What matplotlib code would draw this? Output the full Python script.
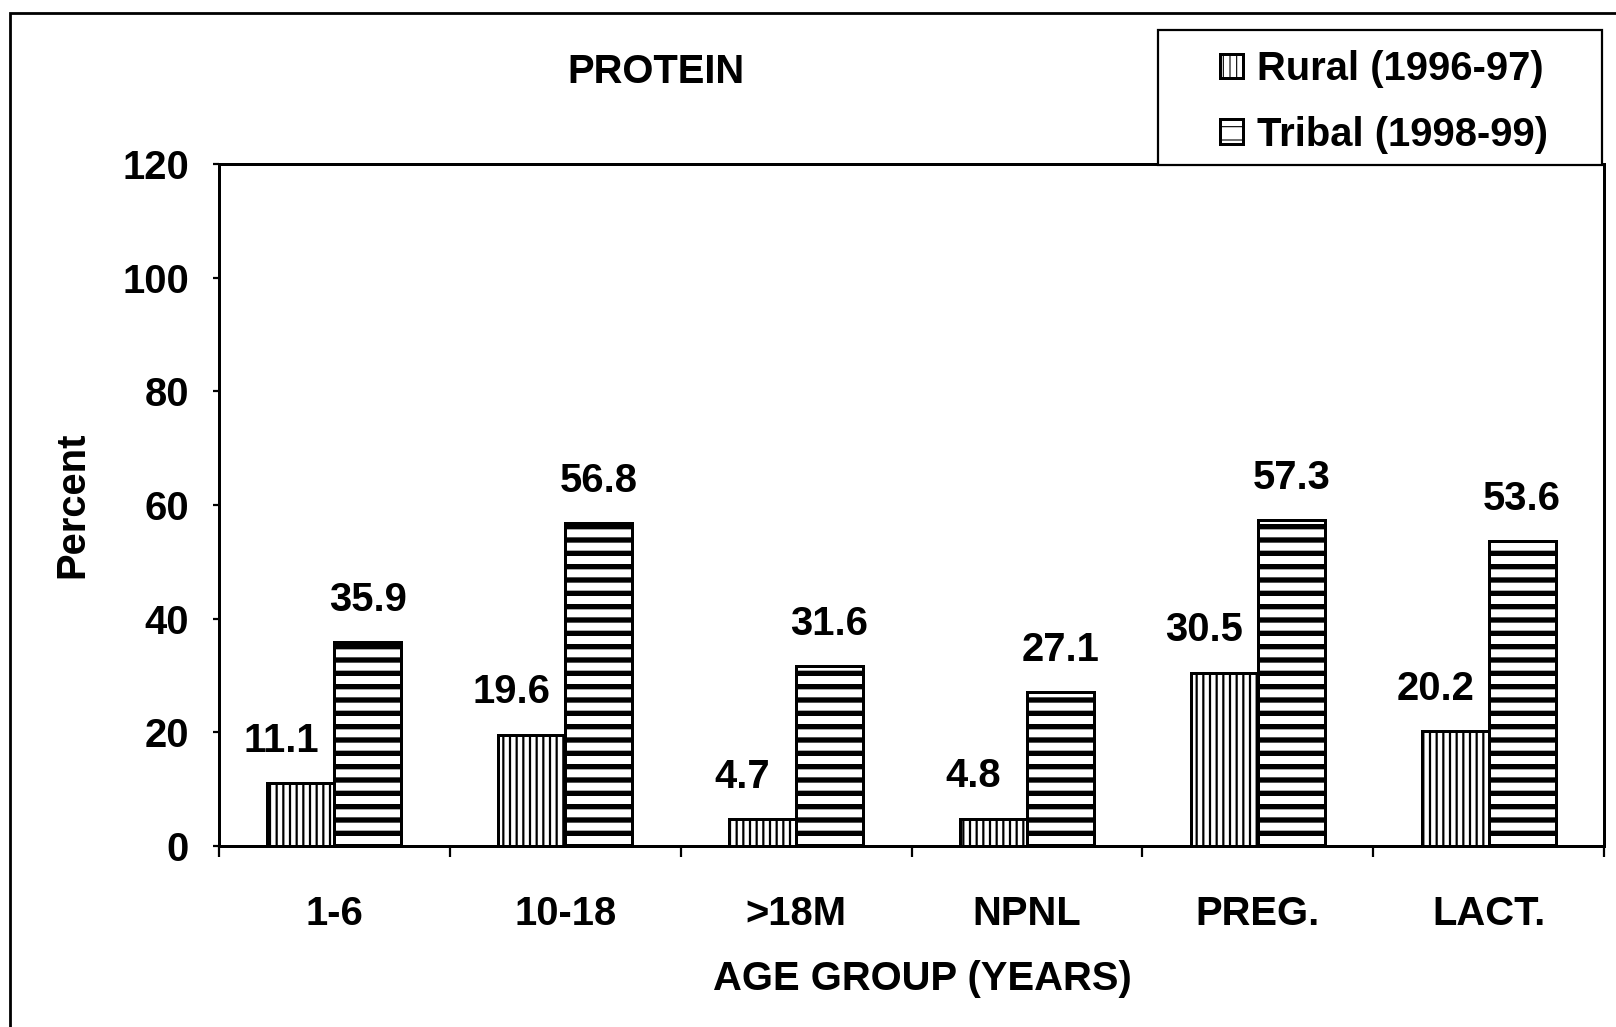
import matplotlib
matplotlib.use('Agg')
import matplotlib.pyplot as plt
from matplotlib.patches import Rectangle
import numpy as np

# Data
categories = ['1-6', '10-18', '>18M', 'NPNL', 'PREG.', 'LACT.']
rural = [11.1, 19.6, 4.7, 4.8, 30.5, 20.2]
tribal = [35.9, 56.8, 31.6, 27.1, 57.3, 53.6]
series_names = ['Rural (1996-97)', 'Tribal (1998-99)']
yticks = [0, 20, 40, 60, 80, 100, 120]

W, H, DPI = 1616, 1027, 80
plt.rcParams['font.family'] = ['Liberation Sans', 'DejaVu Sans']
plt.rcParams['font.weight'] = 'bold'
FS = 36

fig = plt.figure(figsize=(W / DPI, H / DPI), dpi=DPI)
fig.patch.set_facecolor('white')

def fx(px):
    return px / W

def fy(py):
    return 1 - py / H

# Plot area
ax = fig.add_axes([fx(219), fy(846), fx(1604) - fx(219), fy(164) - fy(846)])

x = np.arange(len(categories))
bw = 0.29
b1 = ax.bar(x - bw / 2, rural, bw, color='white', edgecolor='black',
            linewidth=2.7, hatch='||', label=series_names[0])
b2 = ax.bar(x + bw / 2, tribal, bw, color='white', edgecolor='black',
            linewidth=2.7, hatch='-', label=series_names[1])
for p in b1:
    if hasattr(p, 'set_hatch_linewidth'):
        p.set_hatch_linewidth(2.0)
for p in b2:
    if hasattr(p, 'set_hatch_linewidth'):
        p.set_hatch_linewidth(4.8)

# Value labels
for xi, v in zip(x, rural):
    ax.annotate(f'{v}', xy=(xi - bw / 2, v), xytext=(-18, 38),
                textcoords='offset points', ha='center', va='center',
                fontsize=FS, fontweight='bold')
for xi, v in zip(x, tribal):
    ax.annotate(f'{v}', xy=(xi + bw / 2, v), xytext=(0, 38),
                textcoords='offset points', ha='center', va='center',
                fontsize=FS, fontweight='bold')

ax.set_xlim(-0.5, len(categories) - 0.5)
ax.set_ylim(0, 120)
ax.set_yticks(yticks)
ax.set_yticklabels([str(t) for t in yticks], fontsize=FS, fontweight='bold')
ax.tick_params(axis='y', length=5, width=2, pad=22)

ax.set_xticks(x)
ax.set_xticklabels(categories, fontsize=FS, fontweight='bold')
ax.set_xticks(np.arange(-0.5, len(categories)), minor=True)
ax.tick_params(axis='x', which='major', length=0, pad=44)
ax.tick_params(axis='x', which='minor', length=10, width=2, direction='out')

for s in ax.spines.values():
    s.set_linewidth(2.7)

# Outer frame (cut at the right and bottom edges)
fig.patches.append(Rectangle((fx(10), -0.1), 1.2, fy(13) + 0.1,
                             transform=fig.transFigure, fill=False,
                             edgecolor='black', linewidth=2.5))

# Legend box over the top right of the plot
fig.patches.append(Rectangle((fx(1158), fy(165)), fx(1602) - fx(1158),
                             fy(30) - fy(165), transform=fig.transFigure,
                             facecolor='white', edgecolor='black',
                             linewidth=2, zorder=1))
fig.legend(handles=[b1, b2], labels=series_names, loc='center left',
           bbox_to_anchor=(fx(1220), fy(102)), bbox_transform=fig.transFigure,
           frameon=False, borderpad=0, borderaxespad=0, fontsize=FS,
           handlelength=0.58, handleheight=0.55, handletextpad=0.35,
           labelspacing=0.68, prop={'weight': 'bold', 'size': FS})

# Titles
fig.text(fx(656), fy(72), 'PROTEIN', ha='center', va='center',
         fontsize=FS, fontweight='bold')
fig.text(fx(72), fy(505), 'Percent', ha='center', va='center',
         rotation=90, fontsize=FS, fontweight='bold')
fig.text(fx(922), fy(979), 'AGE GROUP (YEARS)', ha='center', va='center',
         fontsize=FS, fontweight='bold')

fig.savefig('out.png', dpi=DPI)
